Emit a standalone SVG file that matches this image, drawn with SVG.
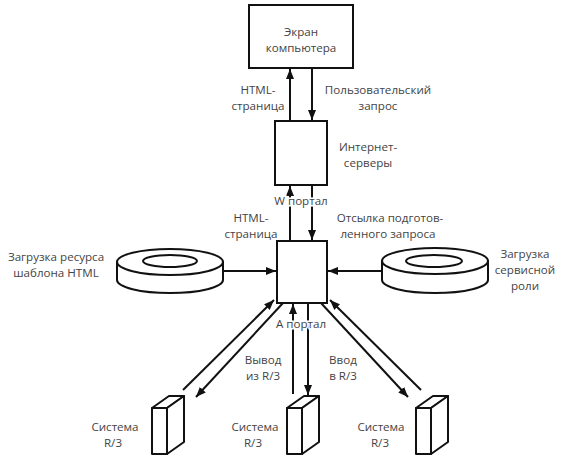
<svg xmlns="http://www.w3.org/2000/svg" width="567" height="459" viewBox="0 0 567 459">
<defs>
<marker id="ah" viewBox="0 0 10 8" refX="10" refY="4" markerWidth="10" markerHeight="8" markerUnits="userSpaceOnUse" orient="auto">
<path d="M0,0 L10,4 L0,8 Z" fill="#111"/>
</marker>
</defs>
<style>
text{font-family:"Open Sans","DejaVu Sans",sans-serif;font-size:11.6px;fill:#444;text-anchor:middle}
.halo{stroke:#fff;stroke-width:3;paint-order:stroke}
.box{fill:#fff;stroke:#111;stroke-width:2}
.ar{stroke:#111;stroke-width:2;fill:none;marker-end:url(#ah)}
.sh{fill:#fff;stroke:#111;stroke-width:2;stroke-linejoin:round}
</style>
<rect width="567" height="459" fill="#fff"/>
<g id="connectors">
<line class="ar" x1="290" y1="121" x2="290" y2="69"/>
<line class="ar" x1="312" y1="68" x2="312" y2="120"/>
<line class="ar" x1="290" y1="241" x2="290" y2="186"/>
<line class="ar" x1="312" y1="185" x2="312" y2="240"/>
<line class="ar" x1="223" y1="271" x2="276" y2="271"/>
<line class="ar" x1="382" y1="271" x2="328" y2="271"/>
<line class="ar" x1="293" y1="394" x2="293" y2="304"/>
<line class="ar" x1="308" y1="303" x2="308" y2="395"/>
<line class="ar" x1="183" y1="390" x2="274" y2="300"/>
<line class="ar" x1="283" y1="303" x2="196" y2="397"/>
<line class="ar" x1="321" y1="303" x2="408" y2="397"/>
<line class="ar" x1="421" y1="390" x2="330" y2="300"/>
</g>
<g id="screen">
<rect class="box" x="249" y="5" width="104" height="63"/>
<text x="301" y="36">Экран</text>
<text x="301" y="52">компьютера</text>
</g>
<g id="lbl-html1">
<text x="258" y="94">HTML-</text>
<text x="258" y="110">страница</text>
</g>
<g id="lbl-request">
<text x="378" y="94">Пользовательский</text>
<text x="378" y="110">запрос</text>
</g>
<g id="internet">
<rect class="box" x="275" y="121" width="52" height="64"/>
<text x="368" y="151">Интернет-</text>
<text x="368" y="167">серверы</text>
<text class="halo" x="301" y="205">W портал</text>
</g>
<g id="lbl-html2">
<text x="251" y="222">HTML-</text>
<text x="251" y="238">страница</text>
</g>
<g id="lbl-send">
<text x="390" y="222">Отсылка подготов-</text>
<text x="388" y="238">ленного запроса</text>
</g>
<g id="aportal">
<rect class="box" x="277" y="241" width="50" height="62"/>
<text class="halo" x="301" y="328">A портал</text>
</g>
<g id="disk-left">
<path class="sh" d="M117,262 L117,280 A53,13 0 0 0 223,280 L223,262 Z"/>
<ellipse class="sh" cx="170" cy="262" rx="53" ry="13"/>
<ellipse class="sh" cx="170" cy="261" rx="27" ry="6"/>
<text x="56" y="261">Загрузка ресурса</text>
<text x="56" y="277">шаблона HTML</text>
</g>
<g id="disk-right">
<path class="sh" d="M382,261 L382,280 A53,13 0 0 0 488,280 L488,261 Z"/>
<ellipse class="sh" cx="435" cy="261" rx="53" ry="13"/>
<ellipse class="sh" cx="434" cy="261" rx="28" ry="6"/>
<text x="525" y="258">Загрузка</text>
<text x="525" y="274">сервисной</text>
<text x="525" y="290">роли</text>
</g>
<g id="lbl-out">
<text x="263" y="364">Вывод</text>
<text x="263" y="380">из R/3</text>
</g>
<g id="lbl-in">
<text x="343" y="364">Ввод</text>
<text x="343" y="380">в R/3</text>
</g>
<g id="sys-left">
<path class="sh" d="M152,408 L169,396 L184,396 L167,408 Z"/>
<path class="sh" d="M167,408 L184,396 L184,442 L167,454 Z"/>
<rect class="sh" x="152" y="408" width="15" height="46"/>
<text x="115" y="431">Система</text>
<text x="113" y="447">R/3</text>
</g>
<g id="sys-mid">
<path class="sh" d="M287,408 L304,396 L319,396 L302,408 Z"/>
<path class="sh" d="M302,408 L319,396 L319,442 L302,454 Z"/>
<rect class="sh" x="287" y="408" width="15" height="46"/>
<text x="255" y="431">Система</text>
<text x="253" y="447">R/3</text>
</g>
<g id="sys-right">
<path class="sh" d="M416,408 L433,396 L448,396 L431,408 Z"/>
<path class="sh" d="M431,408 L448,396 L448,442 L431,454 Z"/>
<rect class="sh" x="416" y="408" width="15" height="46"/>
<text x="381" y="431">Система</text>
<text x="380" y="447">R/3</text>
</g>
</svg>
